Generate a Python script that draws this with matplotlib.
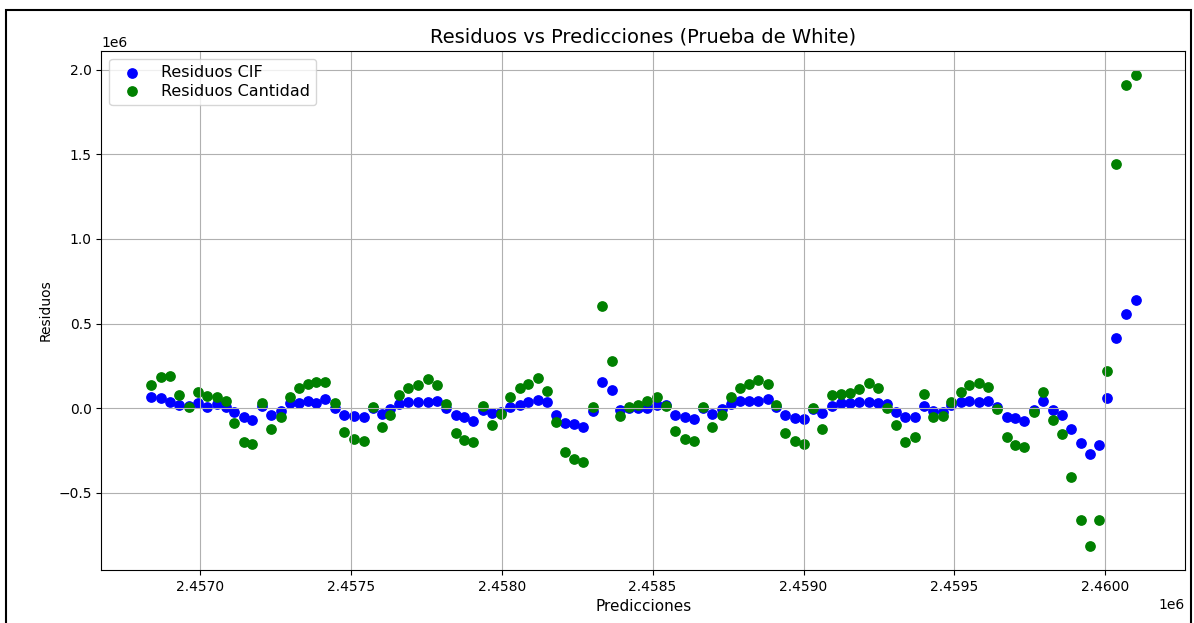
import numpy as np
import matplotlib
matplotlib.use('Agg')
import matplotlib.pyplot as plt
from matplotlib.patches import Rectangle

# valores ajustados (predicciones) del modelo
predicciones = [
    2456837, 2456870, 2456900, 2456929, 2456963, 2456992, 2457025, 2457055, 2457085, 2457112,
    2457145, 2457174, 2457204, 2457234, 2457267, 2457297, 2457327, 2457357, 2457386, 2457416,
    2457446, 2457476, 2457509, 2457542, 2457572, 2457602, 2457631, 2457661, 2457691, 2457724,
    2457757, 2457787, 2457817, 2457847, 2457876, 2457906, 2457939, 2457969, 2457999, 2458029,
    2458059, 2458088, 2458121, 2458151, 2458181, 2458211, 2458241, 2458270, 2458304, 2458333,
    2458366, 2458393, 2458423, 2458453, 2458482, 2458515, 2458545, 2458575, 2458608, 2458638,
    2458668, 2458698, 2458731, 2458760, 2458790, 2458820, 2458850, 2458883, 2458909, 2458939,
    2458972, 2459002, 2459032, 2459062, 2459095, 2459125, 2459155, 2459184, 2459217, 2459247,
    2459277, 2459307, 2459337, 2459370, 2459400, 2459429, 2459462, 2459489, 2459522, 2459549,
    2459582, 2459611, 2459641, 2459674, 2459701, 2459731, 2459764, 2459794, 2459827, 2459856,
    2459886, 2459919, 2459949, 2459979, 2460006, 2460035, 2460068, 2460101,
]

residuos_cif = [
    65000, 59000, 35000, 18000, 12000, 29000, 6000, 24000, 6000, -24000,
    -53000, -71000, 12000, -41000, -18000, 29000, 29000, 41000, 29000, 53000,
    0, -41000, -47000, -53000, 0, -35000, -6000, 24000, 35000, 35000,
    35000, 41000, 0, -41000, -53000, -76000, -12000, -29000, -24000, 6000,
    18000, 35000, 47000, 35000, -41000, -88000, -94000, -112000, -18000, 153000,
    106000, -12000, 0, 0, 0, 18000, 18000, -41000, -53000, -65000,
    0, -35000, -6000, 24000, 41000, 41000, 41000, 53000, 6000, -41000,
    -59000, -65000, -6000, -29000, 12000, 29000, 29000, 35000, 35000, 29000,
    24000, -24000, -53000, -53000, 12000, -18000, -24000, 18000, 35000, 41000,
    35000, 41000, 6000, -53000, -59000, -76000, -12000, 41000, -12000, -41000,
    -124000, -206000, -271000, -218000, 59000, 412000, 559000, 641000,
]

residuos_cantidad = [
    135000, 182000, 188000, 76000, 6000, 94000, 71000, 65000, 41000, -88000,
    -200000, -212000, 29000, -124000, -53000, 65000, 118000, 141000, 153000, 153000,
    29000, -141000, -182000, -194000, 6000, -112000, -41000, 76000, 118000, 135000,
    171000, 135000, 24000, -147000, -188000, -200000, 12000, -100000, -35000, 65000,
    118000, 141000, 176000, 100000, -82000, -259000, -300000, -318000, 6000, 606000,
    276000, -47000, 6000, 18000, 41000, 65000, 12000, -135000, -182000, -194000,
    6000, -112000, -41000, 65000, 118000, 141000, 165000, 141000, 18000, -147000,
    -194000, -212000, 0, -124000, 76000, 82000, 88000, 112000, 147000, 118000,
    0, -100000, -200000, -171000, 82000, -53000, -47000, 35000, 94000, 135000,
    147000, 124000, -6000, -171000, -218000, -229000, -24000, 94000, -71000, -153000,
    -406000, -659000, -818000, -659000, 218000, 1441000, 1912000, 1971000,
]

fig = plt.figure(figsize=(11.94, 6.23), dpi=100)
ax = fig.add_subplot(111)
plt.subplots_adjust(left=0.085, right=0.9925, top=0.918, bottom=0.085)

ax.scatter(predicciones, residuos_cif, color='blue', s=45, label='Residuos CIF')
ax.scatter(predicciones, residuos_cantidad, color='green', s=45, label='Residuos Cantidad')
ax.set_title('Residuos vs Predicciones (Prueba de White)', fontsize=14)
ax.set_xlabel('Predicciones', fontsize=11)
ax.set_ylabel('Residuos', fontsize=10)
ax.legend(loc='upper left', fontsize=11.5, labelspacing=0.2)
ax.grid(True)

# marco negro alrededor de la figura
fig.add_artist(Rectangle((6 / 1194, -0.05), 1185 / 1194, 1.05 - 10 / 623,
                         transform=fig.transFigure, fill=False,
                         edgecolor='black', linewidth=1.5))

fig.savefig('out.png', dpi=100)
